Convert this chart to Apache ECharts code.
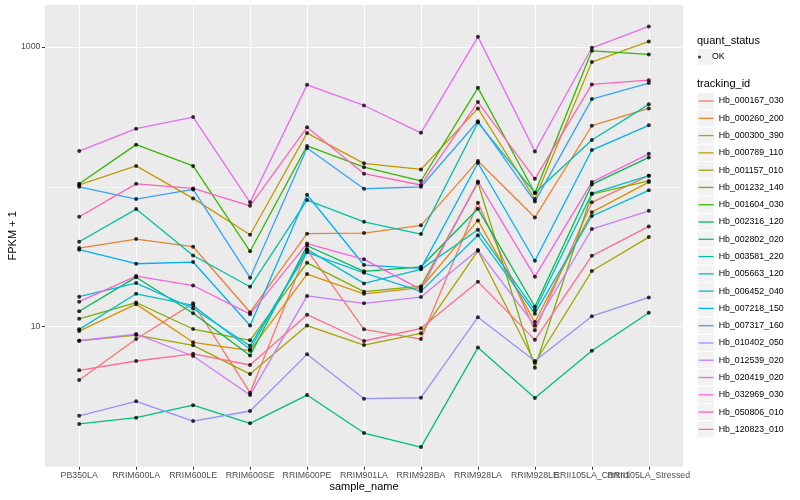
<!DOCTYPE html>
<html>
<head>
<meta charset="utf-8">
<script src="https://cdn.jsdelivr.net/npm/echarts@6/dist/echarts.min.js"></script>
<style>
html,body{margin:0;padding:0;background:#ffffff;}
#chart{width:800px;height:500px;}
</style>
</head>
<body>
<div id="chart"></div>
<script>
// ---------- data ----------
const categories = ['PB350LA','RRIM600LA','RRIM600LE','RRIM600SE','RRIM600PE','RRIM901LA','RRIM928BA','RRIM928LA','RRIM928LE','RRII105LA_Control','RRII105LA_Stressed'];
const trackingIds = ['Hb_000167_030','Hb_000260_200','Hb_000300_390','Hb_000789_110','Hb_001157_010','Hb_001232_140','Hb_001604_030','Hb_002316_120','Hb_002802_020','Hb_003581_220','Hb_005663_120','Hb_006452_040','Hb_007218_150','Hb_007317_160','Hb_010402_050','Hb_012539_020','Hb_020419_020','Hb_032969_030','Hb_050806_010','Hb_120823_010'];
const quantStatus = ['OK'];
const yTickValues = [10, 1000];
const yMinorValues = [100];

const hb_000167_030 = [4.16, 8.17, 14.7, 3.38, 35.3, 9.58, 8.17, 76.9, 9.42, 77.4, 120];
const hb_000260_200 = [36.5, 42.3, 37.3, 12.7, 46.2, 46.7, 53.0, 153, 60.4, 273, 363];
const hb_000300_390 = [9.31, 14.5, 7.74, 6.74, 23.8, 17.2, 19.0, 57.5, 10.8, 65.9, 108];
const hb_000789_110 = [103, 141, 82.6, 45.4, 242, 147, 133, 363, 81.7, 778, 1093];
const hb_001157_010 = [7.94, 8.72, 7.36, 4.59, 10.2, 7.40, 8.97, 34.9, 5.53, 25.0, 43.7];
const hb_001232_140 = [11.4, 14.9, 9.63, 8.0, 28.6, 17.8, 19.5, 107, 5.10, 88.7, 110];
const hb_001604_030 = [105, 200, 141, 34.6, 196, 138, 110, 509, 90.2, 936, 883];
const hb_002316_120 = [12.9, 22.6, 12.5, 6.23, 37.9, 24.9, 26.8, 69.6, 13.9, 104, 162];
const hb_002802_020 = [2.02, 2.24, 2.75, 2.04, 3.25, 1.74, 1.38, 7.10, 3.10, 6.74, 12.6];
const hb_003581_220 = [40.5, 69.3, 32.3, 19.3, 80.3, 56.2, 45.9, 288, 90.6, 216, 388];
const hb_005663_120 = [9.58, 17.2, 14.2, 6.90, 35.7, 20.4, 25.7, 49.3, 13.1, 89.7, 120];
const hb_006452_040 = [16.4, 20.5, 13.5, 7.32, 34.0, 24.3, 17.9, 45.0, 12.4, 61.8, 94.3];
const hb_007218_150 = [35.5, 28.2, 29.0, 10.2, 87.7, 27.6, 26.1, 148, 29.6, 183, 275];
const hb_007317_160 = [100, 81.7, 95.8, 22.4, 189, 96.8, 100, 294, 78.4, 423, 551];
const hb_010402_050 = [2.31, 2.93, 2.12, 2.50, 6.35, 3.06, 3.11, 11.7, 5.69, 11.9, 16.2];
const hb_012539_020 = [7.94, 8.87, 6.18, 3.25, 16.6, 14.7, 16.3, 35.3, 10.2, 49.9, 67.4];
const hb_020419_020 = [180, 260, 315, 77.4, 535, 381, 243, 1178, 179, 984, 1399];
const hb_032969_030 = [15.1, 23.0, 19.7, 12.3, 39.3, 30.3, 18.5, 109, 22.8, 108, 172];
const hb_050806_010 = [61.1, 105, 97.4, 73.1, 266, 124, 103, 403, 114, 539, 578];
const hb_120823_010 = [4.88, 5.69, 6.41, 5.33, 12.2, 7.91, 9.74, 21.0, 8.06, 32.1, 52.1];

const seriesValues = [hb_000167_030, hb_000260_200, hb_000300_390, hb_000789_110, hb_001157_010,
  hb_001232_140, hb_001604_030, hb_002316_120, hb_002802_020, hb_003581_220, hb_005663_120,
  hb_006452_040, hb_007218_150, hb_007317_160, hb_010402_050, hb_012539_020, hb_020419_020,
  hb_032969_030, hb_050806_010, hb_120823_010];

// ---------- style ----------
const colors = ['#F8766D','#EA8331','#D89000','#C09B00','#A3A500','#7CAE00','#39B600','#00BB4E','#00BF7D','#00C1A3','#00BFC4','#00BAE0','#00B0F6','#35A2FF','#9590FF','#C77CFF','#E76BF3','#FA62DB','#FF62BC','#FF6C91'];
const FONT = '"Liberation Sans", Arial, Helvetica, sans-serif';
const KEY = 17.28;
const X_MIN = -0.6, X_MAX = 10.6;
const catIdx = categories.map((c, i) => i);
// an empty end-of-axis label slot keeps ECharts from dropping one of the two overlapping end labels
const xLabelValues = catIdx.concat([X_MAX]);

const lineSeries = trackingIds.map((id, k) => ({
  name: id,
  type: 'line',
  data: seriesValues[k].map((v, i) => [i, v]),
  symbol: 'none',
  color: colors[k],
  lineStyle: { width: 1.3, color: colors[k] },
  itemStyle: { color: colors[k] },
  z: 2,
  silent: true
}));

const pointData = [];
seriesValues.forEach(arr => arr.forEach((v, i) => pointData.push([i, v])));
const pointSeries = {
  name: quantStatus[0],
  type: 'scatter',
  data: pointData,
  symbol: 'circle',
  symbolSize: 4,
  itemStyle: { color: '#000000' },
  z: 3,
  silent: true
};

// legend key backgrounds
const keyRects = [];
quantStatus.forEach((q, i) => keyRects.push({
  type: 'rect', z: -1,
  shape: { x: 697, y: 48.4 + i * KEY, width: KEY, height: KEY },
  style: { fill: '#F2F2F2', stroke: '#FFFFFF', lineWidth: 1 }
}));
trackingIds.forEach((t, i) => keyRects.push({
  type: 'rect', z: -1,
  shape: { x: 697, y: 92.4 + i * KEY, width: KEY, height: KEY },
  style: { fill: '#F2F2F2', stroke: '#FFFFFF', lineWidth: 1 }
}));

const chart = echarts.init(document.getElementById('chart'), null, { renderer: 'canvas' });
chart.setOption({
  animation: false,
  backgroundColor: '#FFFFFF',
  textStyle: { fontFamily: FONT },
  title: [
    { text: 'quant_status', left: 697, top: 34.2, padding: 0,
      textStyle: { fontSize: 11, fontWeight: 'normal', color: '#000000', fontFamily: FONT, lineHeight: 13 } },
    { text: 'tracking_id', left: 697, top: 77.8, padding: 0,
      textStyle: { fontSize: 11, fontWeight: 'normal', color: '#000000', fontFamily: FONT, lineHeight: 13 } }
  ],
  grid: { left: 45, right: 117, top: 5, bottom: 33.3, show: true, backgroundColor: '#EBEBEB', borderWidth: 0, containLabel: false, outerBoundsMode: 'none' },
  xAxis: {
    type: 'value', min: X_MIN, max: X_MAX,
    axisLine: { show: false, onZero: false },
    axisTick: { show: true, length: 3, customValues: catIdx, lineStyle: { color: '#333333', width: 1 } },
    axisLabel: { customValues: xLabelValues,
      formatter: v => (Math.abs(v - Math.round(v)) < 1e-6 && categories[Math.round(v)]) ? categories[Math.round(v)] : '',
      color: '#4D4D4D', fontSize: 8.8, margin: 4.5, fontFamily: FONT,
      showMinLabel: true, showMaxLabel: false, hideOverlap: false },
    splitLine: { show: true, lineStyle: { color: '#FFFFFF', width: 1.1 } },
    name: 'sample_name', nameLocation: 'middle', nameGap: 15, nameMoveOverlap: false,
    nameTextStyle: { color: '#000000', fontSize: 11, fontFamily: FONT }
  },
  yAxis: [
    {
      type: 'log', logBase: 10, min: 1, max: 1990,
      axisLine: { show: false, onZero: false },
      axisTick: { show: true, length: 3, customValues: yTickValues, lineStyle: { color: '#333333', width: 1 } },
      axisLabel: { customValues: yTickValues, formatter: v => String(v), color: '#4D4D4D', fontSize: 8.8, margin: 4.5, fontFamily: FONT,
        showMinLabel: true, showMaxLabel: true, hideOverlap: false },
      splitLine: { show: true, lineStyle: { color: '#FFFFFF', width: 1.1 } },
      name: 'FPKM + 1', nameLocation: 'middle', nameGap: 27, nameMoveOverlap: false,
      nameTextStyle: { color: '#000000', fontSize: 11, fontFamily: FONT }
    },
    {
      type: 'log', logBase: 10, min: 1, max: 1990, position: 'left',
      axisLine: { show: false, onZero: false },
      axisTick: { show: false, customValues: yMinorValues },
      axisLabel: { show: false, customValues: yMinorValues },
      splitLine: { show: true, lineStyle: { color: '#FFFFFF', width: 0.55 } }
    }
  ],
  legend: [
    {
      data: quantStatus, orient: 'vertical', left: 698, top: 48.4, padding: 0,
      itemWidth: 15, itemHeight: 3, itemGap: 0, icon: 'circle', selectedMode: false,
      textStyle: { fontSize: 8.8, color: '#000000', fontFamily: FONT, lineHeight: KEY }
    },
    {
      data: trackingIds, orient: 'vertical', left: 698, top: 92.4, padding: 0,
      itemWidth: 15, itemHeight: 12, itemGap: 0, selectedMode: false,
      itemStyle: { opacity: 0 },
      lineStyle: { width: 1.3 },
      textStyle: { fontSize: 8.8, color: '#000000', fontFamily: FONT, lineHeight: KEY }
    }
  ],
  graphic: { elements: keyRects },
  series: lineSeries.concat([pointSeries])
});
</script>
</body>
</html>
